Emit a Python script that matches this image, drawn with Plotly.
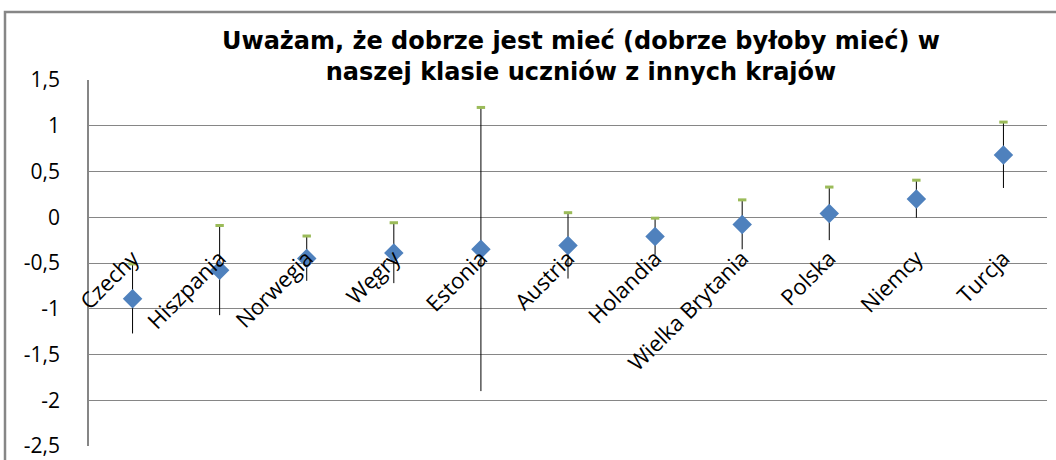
import plotly.graph_objects as go

categories = ["Czechy", "Hiszpania", "Norwegia", "Węgry", "Estonia", "Austria",
              "Holandia", "Wielka Brytania", "Polska", "Niemcy", "Turcja"]
means = [-0.89, -0.58, -0.45, -0.39, -0.35, -0.31, -0.21, -0.08, 0.04, 0.20, 0.68]
errors = [0.38, 0.49, 0.245, 0.33, 1.55, 0.36, 0.20, 0.27, 0.29, 0.205, 0.36]
tick_vals = [1.5, 1, 0.5, 0, -0.5, -1, -1.5, -2, -2.5]
tick_labels = ["1,5", "1", "0,5", "0", "-0,5", "-1", "-1,5", "-2", "-2,5"]
title_text = "Uważam, że dobrze jest mieć (dobrze byłoby mieć) w<br>naszej klasie uczniów z innych krajów"

GRID = "#868686"
BLUE = "#4F81BD"
GREEN = "#9BBB59"

fig = go.Figure()
fig.add_trace(go.Scatter(
    x=categories, y=means, mode="markers",
    marker=dict(symbol="diamond", size=15, color=BLUE),
    error_y=dict(type="data", array=errors, color="black", thickness=1, width=0),
    showlegend=False, hoverinfo="x+y",
))
fig.add_trace(go.Scatter(
    x=categories, y=[m + e for m, e in zip(means, errors)], mode="markers",
    marker=dict(symbol="line-ew", size=6, line=dict(color=GREEN, width=3)),
    showlegend=False, hoverinfo="skip",
))

ymin, ymax = -2.5, 1.5
fig.update_layout(
    width=1056, height=460,
    margin=dict(l=89, r=9, t=80, b=14),
    paper_bgcolor="white", plot_bgcolor="white",
    font=dict(family="Open Sans, sans-serif", size=20, color="black"),
    title=dict(text=title_text, x=(581 - 89) / 958, xref="paper", xanchor="center",
               y=1 - 49 / 460, yref="container", yanchor="middle",
               font=dict(family="DejaVu Sans, sans-serif", size=24, color="black",
                         weight="bold")),
    xaxis=dict(type="category", range=[-0.5, len(categories) - 0.5],
               tickangle=-45, anchor="free", position=(0 - ymin) / (ymax - ymin),
               showgrid=False, showline=False, zeroline=False, ticks="",
               ticklabelstandoff=23, automargin=False,
               tickfont=dict(family="Open Sans, sans-serif", size=22, color="black")),
    yaxis=dict(range=[ymin, ymax], tickvals=tick_vals, ticktext=tick_labels,
               showgrid=True, gridcolor=GRID, gridwidth=1, zeroline=False,
               showline=True, linecolor=GRID, linewidth=1.5, ticks="",
               ticklabelstandoff=23, automargin=False,
               tickfont=dict(family="Open Sans, sans-serif", size=21, color="black")),
    shapes=[dict(type="rect", xref="paper", yref="paper",
                 x0=(5 - 89) / 958, x1=(1062 - 89) / 958,
                 y0=-0.1, y1=(446 - 12) / 366,
                 line=dict(color=GRID, width=2.5), fillcolor="rgba(0,0,0,0)", layer="below")],
)

fig.write_html("out.html", config={"displayModeBar": False},
               post_script="document.body.style.margin='0';document.body.style.overflow='hidden';")
